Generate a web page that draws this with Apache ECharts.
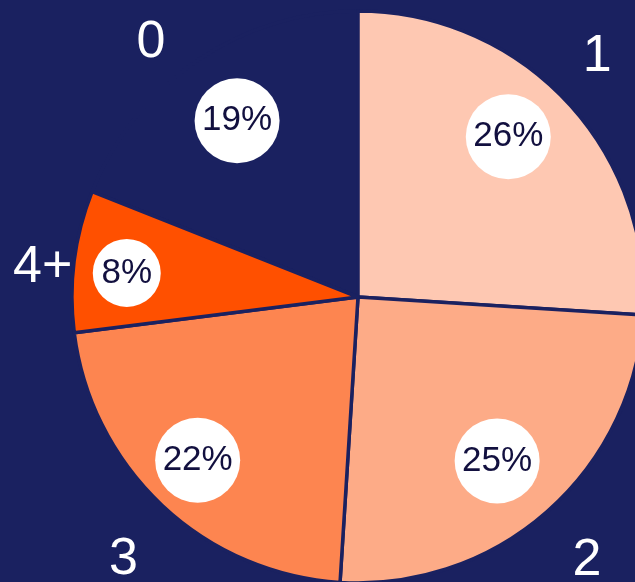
<!DOCTYPE html>
<html>
<head>
<meta charset="utf-8">
<script src="https://cdn.jsdelivr.net/npm/echarts@6/dist/echarts.min.js"></script>
<style>
html,body{margin:0;padding:0;background:#1a2160;}
#chart{width:635px;height:582px;}
</style>
</head>
<body>
<div id="chart"></div>
<script>
const categories = ['0', '1', '2', '3', '4+'];
const shares = [19, 26, 25, 22, 8];
const sliceColors = ['#1a2160', '#fec8b2', '#fdab87', '#fd8550', '#ff5000'];

const BG = '#1a2160';
const center = [358, 297];
const R = 286;
// slice "0" ends at 12 o'clock, so start where it begins
const startAngle = 90 + shares[0] * 3.6;

// small label offsets (styling only)
const pctNudge = [[5, 9], [-13, -7], [-9, -4], [-7, 0], [-9, 4]];
const catNudge = [[-21, 19], [-2, -14], [10, 15], [-8, 21], [13, 12]];

const mainData = categories.map((c, i) => ({
  name: c, value: shares[i], itemStyle: { color: sliceColors[i] }
}));
const plainData = categories.map((c, i) => ({ name: c, value: shares[i] }));

const clear = 'rgba(0,0,0,0)';
const chart = echarts.init(document.getElementById('chart'));
chart.setOption({
  backgroundColor: BG,
  animation: false,
  series: [
    {
      type: 'pie', center: center, radius: [0, R], startAngle: startAngle,
      clockwise: true, silent: true, data: mainData,
      itemStyle: { borderColor: BG, borderWidth: 3.5 },
      label: { show: false }, labelLine: { show: false },
      emphasis: { disabled: true }
    },
    {
      type: 'pie', center: center, radius: [150, 292], startAngle: startAngle,
      clockwise: true, silent: true, data: plainData,
      itemStyle: { color: clear, borderWidth: 0 },
      labelLine: { show: false }, emphasis: { disabled: true },
      labelLayout: p => ({ dx: pctNudge[p.dataIndex][0], dy: pctNudge[p.dataIndex][1] }),
      label: {
        show: true, position: 'inside',
        formatter: p => (String(p.value).length > 1 ? '{c3|' : '{c2|') + p.value + '%}',
        rich: {
          c3: { width: 85, height: 85, lineHeight: 85, borderRadius: 42.5, align: 'center',
                backgroundColor: '#ffffff', color: '#12103f', fontSize: 35, fontFamily: 'Liberation Sans' },
          c2: { width: 68, height: 68, lineHeight: 68, borderRadius: 34, align: 'center',
                backgroundColor: '#ffffff', color: '#12103f', fontSize: 35, fontFamily: 'Liberation Sans' }
        }
      }
    },
    {
      type: 'pie', center: center, radius: [290, 366], startAngle: startAngle,
      clockwise: true, silent: true, data: plainData,
      itemStyle: { color: clear, borderWidth: 0 },
      labelLine: { show: false }, emphasis: { disabled: true },
      labelLayout: p => ({ dx: catNudge[p.dataIndex][0], dy: catNudge[p.dataIndex][1] }),
      label: {
        show: true, position: 'inside', formatter: '{b}',
        color: '#ffffff', fontSize: 52, fontFamily: 'Liberation Sans'
      }
    }
  ]
});
</script>
</body>
</html>
